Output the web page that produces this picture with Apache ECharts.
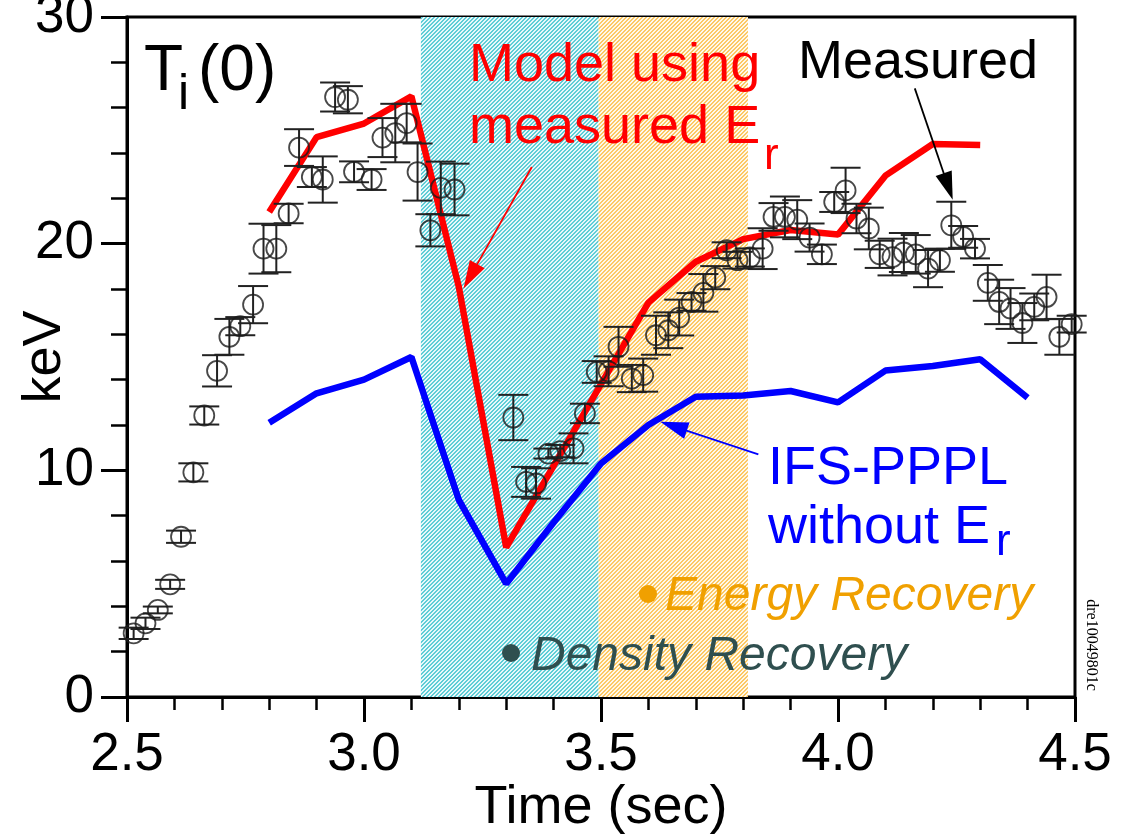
<!DOCTYPE html>
<html>
<head>
<meta charset="utf-8">
<script src="https://cdn.jsdelivr.net/npm/echarts@6/dist/echarts.min.js"></script>
<style>
  html, body { margin: 0; padding: 0; background: #ffffff; }
  #chart { width: 1126px; height: 836px; }
</style>
</head>
<body>
<div id="chart"></div>
<script>
// Measured central ion temperature Ti(0) with error bars
const measTime = [2.514, 2.539, 2.565, 2.591, 2.614, 2.640, 2.663, 2.690, 2.716, 2.739, 2.766,
  2.788, 2.815, 2.841, 2.863, 2.890, 2.913, 2.939, 2.966, 2.979, 3.016, 3.039, 3.066, 3.090,
  3.113, 3.140, 3.162, 3.191, 3.315, 3.342, 3.363, 3.389, 3.414, 3.442, 3.466, 3.491, 3.516,
  3.537, 3.565, 3.589, 3.616, 3.642, 3.665, 3.691, 3.716, 3.741, 3.765, 3.788, 3.814, 3.841,
  3.864, 3.888, 3.914, 3.940, 3.966, 3.992, 4.016, 4.039, 4.065, 4.088, 4.115, 4.139, 4.164,
  4.190, 4.215, 4.239, 4.264, 4.289, 4.316, 4.340, 4.364, 4.389, 4.414, 4.440, 4.467, 4.493];
const measTi = [2.81, 3.25, 3.84, 4.97, 7.07, 9.91, 12.42, 14.39, 15.89, 16.36, 17.31,
  19.78, 19.78, 21.33, 24.24, 22.94, 22.83, 26.47, 26.35, 23.17, 22.83, 24.68, 24.88, 25.32,
  23.16, 20.59, 22.46, 22.39, 12.33, 9.49, 9.42, 10.74, 10.85, 10.97, 12.51, 14.34, 14.37,
  15.45, 14.05, 14.20, 15.96, 16.18, 16.74, 17.43, 17.83, 18.50, 19.71, 19.27, 19.39, 19.78,
  21.18, 21.18, 21.06, 20.27, 19.53, 21.84, 22.35, 21.11, 20.67, 19.53, 19.41, 19.61, 19.53,
  18.90, 19.27, 20.81, 20.30, 19.78, 18.27, 17.43, 17.14, 16.50, 17.21, 17.65, 15.89, 16.45];
const measErr = [0.25, 0.25, 0.15, 0.20, 0.27, 0.40, 0.40, 0.69, 0.79, 0.40, 0.82,
  1.10, 1.04, 0.43, 0.81, 0.44, 1.02, 0.64, 0.60, 0.46, 0.46, 0.86, 1.29, 0.85,
  1.26, 0.71, 1.16, 1.14, 1.00, 0.66, 0.67, 0.22, 0.27, 0.66, 0.43, 0.48, 0.66,
  0.88, 0.60, 0.73, 0.86, 0.79, 0.79, 0.39, 0.83, 0.51, 0.35, 0.37, 0.40, 0.90,
  0.61, 0.90, 0.86, 0.62, 0.43, 0.44, 1.00, 0.65, 0.92, 0.60, 0.81, 0.86, 0.85,
  0.82, 0.51, 1.04, 0.48, 0.43, 0.79, 0.98, 0.90, 0.88, 0.59, 0.98, 0.79, 0.37];

// Model using measured Er
const modelTime = [2.8, 2.9, 3.0, 3.1, 3.2, 3.3, 3.4, 3.5, 3.6, 3.7, 3.8, 3.9, 4.0, 4.1, 4.2, 4.3];
const modelTi = [21.4, 24.7, 25.3, 26.5, 18.1, 6.6, 10.2, 13.8, 17.4, 19.2, 20.2, 20.6, 20.4, 23.0, 24.4, 24.35];

// IFS-PPPL without Er
const ifsTime = [2.8, 2.9, 3.0, 3.1, 3.2, 3.3, 3.4, 3.5, 3.6, 3.7, 3.8, 3.9, 4.0, 4.1, 4.2, 4.3, 4.4];
const ifsTi = [12.1, 13.4, 14.0, 15.0, 8.7, 5.0, 7.7, 10.3, 12.0, 13.25, 13.3, 13.5, 13.0, 14.4, 14.6, 14.9, 13.2];

// Recovery phases (time ranges)
const densityPhase = [3.12, 3.495];
const energyPhase = [3.495, 3.81];

// Axis ticks
const xMin = 2.5, xMax = 4.5, xStep = 0.5;
const yMin = 0, yMax = 30, yStep = 10;

// Annotation arrows: tail -> head in data units
const arrowTail = [[3.354, 23.38], [4.162, 26.85], [3.832, 10.70]];
const arrowHead = [[3.210, 18.02], [4.242, 21.94], [3.625, 12.14]];
const arrowColors = ['#ff0000', '#000000', '#0000ff'];

const SANS = '"Liberation Sans", Arial, Helvetica, sans-serif';

// Pixel-exact diagonal hatch tile ("/" stripes, 4 px period) on a pale tinted ground
function hatch(stripe, ground) {
  const n = 4;
  const c = document.createElement('canvas');
  c.width = n; c.height = n;
  const g = c.getContext('2d');
  const img = g.createImageData(n, n);
  for (let y = 0; y < n; y++) {
    for (let x = 0; x < n; x++) {
      const k = (y * n + x) * 4;
      const col = ((x + y) % n) >= 2 ? stripe : ground;
      img.data[k] = col[0];
      img.data[k + 1] = col[1];
      img.data[k + 2] = col[2];
      img.data[k + 3] = 255;
    }
  }
  g.putImageData(img, 0, 0);
  return c;
}

const chart = echarts.init(document.getElementById('chart'), null, { renderer: 'canvas' });

function txt(text, x, baseline, size, color, extra) {
  return {
    type: 'text', x: x, y: baseline - 0.35 * size, z: 50,
    style: Object.assign({
      text: text, fill: color, font: size + 'px ' + SANS,
      align: 'left', verticalAlign: 'middle'
    }, extra || {})
  };
}

const option = {
  animation: false,
  backgroundColor: '#ffffff',
  grid: { left: 127, right: 51, top: 17, bottom: 139, show: true, borderColor: '#000', borderWidth: 3, backgroundColor: 'transparent', outerBoundsMode: 'none' },
  xAxis: {
    type: 'value', min: xMin, max: xMax, interval: xStep,
    name: 'Time (sec)', nameLocation: 'middle', nameGap: 84, nameMoveOverlap: false,
    nameTextStyle: { fontFamily: SANS, fontSize: 54, color: '#000' },
    axisLine: { show: true, onZero: false, lineStyle: { color: '#000', width: 3 } },
    axisTick: { show: true, inside: false, length: 25, lineStyle: { color: '#000', width: 3 } },
    minorTick: { show: true, splitNumber: 5, length: 13, lineStyle: { color: '#000', width: 2.5 } },
    splitLine: { show: false }, minorSplitLine: { show: false },
    axisLabel: { margin: 32, fontFamily: SANS, fontSize: 53, color: '#000', formatter: v => v.toFixed(1) }
  },
  yAxis: {
    type: 'value', min: yMin, max: yMax, interval: yStep,
    name: 'keV', nameLocation: 'middle', nameGap: 55, nameRotate: 90, nameMoveOverlap: false,
    nameTextStyle: { fontFamily: SANS, fontSize: 54, color: '#000' },
    axisLine: { show: true, onZero: false, lineStyle: { color: '#000', width: 3 } },
    axisTick: { show: true, inside: false, length: 26, lineStyle: { color: '#000', width: 3 } },
    minorTick: { show: true, splitNumber: 5, length: 16, lineStyle: { color: '#000', width: 2.5 } },
    splitLine: { show: false }, minorSplitLine: { show: false },
    axisLabel: { margin: 33, fontFamily: SANS, fontSize: 53, color: '#000' }
  },
  series: [
    {
      name: 'phases', type: 'line', data: [], z: 0, silent: true,
      markArea: {
        silent: true,
        itemStyle: { borderWidth: 0, opacity: 1 },
        data: [
          [{ xAxis: densityPhase[0], itemStyle: { color: { image: hatch([95, 205, 214], [232, 248, 250]), repeat: 'repeat' }, opacity: 1 } }, { xAxis: densityPhase[1] }],
          [{ xAxis: energyPhase[0], itemStyle: { color: { image: hatch([252, 200, 100], [255, 248, 232]), repeat: 'repeat' }, opacity: 1 } }, { xAxis: energyPhase[1] }]
        ]
      }
    },
    {
      name: 'IFS-PPPL without Er', type: 'line', z: 3,
      data: ifsTime.map((t, i) => [t, ifsTi[i]]),
      showSymbol: false, lineStyle: { color: '#0000ff', width: 6.5 }
    },
    {
      name: 'Model using measured Er', type: 'line', z: 3,
      data: modelTime.map((t, i) => [t, modelTi[i]]),
      showSymbol: false, lineStyle: { color: '#ff0000', width: 6.5 }
    },
    {
      name: 'error', type: 'custom', z: 4,
      data: measTime.map((t, i) => [t, measTi[i] - measErr[i], measTi[i] + measErr[i]]),
      encode: { x: 0, y: [1, 2] },
      renderItem: function (params, api) {
        const lo = api.coord([api.value(0), api.value(1)]);
        const hi = api.coord([api.value(0), api.value(2)]);
        const w = 15;
        const st = { stroke: '#222', lineWidth: 2 };
        return {
          type: 'group', children: [
            { type: 'line', shape: { x1: lo[0], y1: lo[1], x2: hi[0], y2: hi[1] }, style: st },
            { type: 'line', shape: { x1: lo[0] - w, y1: lo[1], x2: lo[0] + w, y2: lo[1] }, style: st },
            { type: 'line', shape: { x1: hi[0] - w, y1: hi[1], x2: hi[0] + w, y2: hi[1] }, style: st }
          ]
        };
      }
    },
    {
      name: 'Measured', type: 'scatter', z: 5,
      data: measTime.map((t, i) => [t, measTi[i]]),
      symbol: 'circle', symbolSize: 20,
      itemStyle: { color: 'rgba(0,0,0,0)', borderColor: '#1a1a1a', borderWidth: 1.8 }
    },
    {
      name: 'arrows', type: 'custom', z: 6,
      data: arrowTail.map((p, i) => [p[0], p[1], arrowHead[i][0], arrowHead[i][1]]),
      encode: { x: [0, 2], y: [1, 3] },
      renderItem: function (params, api) {
        const p0 = api.coord([api.value(0), api.value(1)]);
        const p1 = api.coord([api.value(2), api.value(3)]);
        const c = arrowColors[params.dataIndex];
        const dx = p1[0] - p0[0], dy = p1[1] - p0[1];
        const L = Math.hypot(dx, dy);
        const ux = dx / L, uy = dy / L;
        const hl = 28, hw = 8.5;
        const bx = p1[0] - ux * hl, by = p1[1] - uy * hl;
        return {
          type: 'group', children: [
            { type: 'line', shape: { x1: p0[0], y1: p0[1], x2: bx + ux * 2, y2: by + uy * 2 }, style: { stroke: c, lineWidth: 1.8 } },
            { type: 'polygon', shape: { points: [[p1[0], p1[1]], [bx - uy * hw, by + ux * hw], [bx + uy * hw, by - ux * hw]] }, style: { fill: c } }
          ]
        };
      }
    }
  ],
  graphic: [
    txt('T', 144, 95, 64, '#000'),
    txt('i', 178, 113, 50, '#000'),
    txt('(0)', 198, 95, 64, '#000'),
    txt('Model using', 469, 85, 54, '#ff0000'),
    txt('measured E', 469, 147, 54, '#ff0000'),
    txt('r', 764, 172, 44, '#ff0000'),
    txt('Measured', 798, 82, 54, '#000'),
    txt('IFS-PPPL', 768, 488, 54, '#0000ff'),
    txt('without E', 768, 547, 54, '#0000ff'),
    txt('r', 996, 558, 44, '#0000ff'),
    txt('Energy Recovery', 665, 613, 48, '#f0a000', { font: 'italic 48px ' + SANS }),
    txt('Density Recovery', 531, 673, 48, '#2f4f4f', { font: 'italic 48px ' + SANS }),
    { type: 'circle', shape: { cx: 648, cy: 594, r: 9 }, style: { fill: '#f0a000' }, z: 50 },
    { type: 'circle', shape: { cx: 511, cy: 653, r: 9 }, style: { fill: '#2f4f4f' }, z: 50 },
    {
      type: 'text', x: 1091, y: 645, rotation: -Math.PI / 2, z: 50,
      style: { text: 'dre10049801c', fill: '#000', font: '16px "Liberation Serif", "Times New Roman", serif', align: 'center', verticalAlign: 'middle' }
    }
  ]
};

chart.setOption(option);
</script>
</body>
</html>
